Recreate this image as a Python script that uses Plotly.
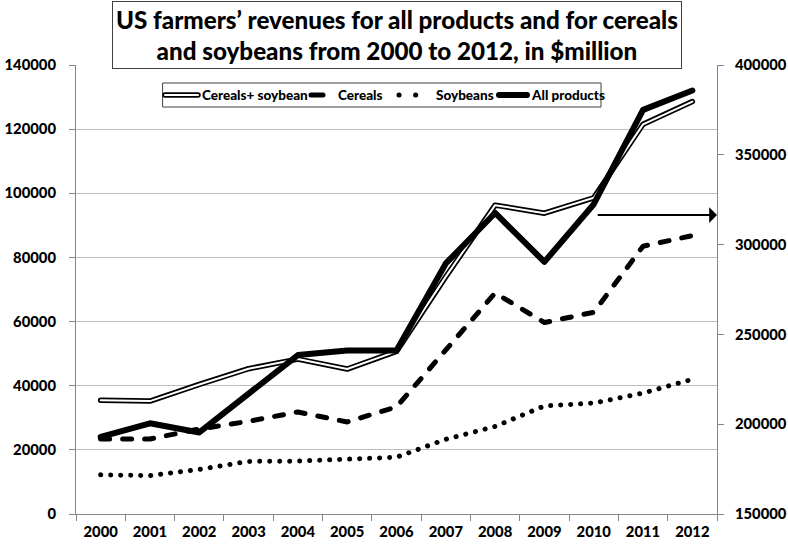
import plotly.graph_objects as go

# US farm revenues, $million
years = ["2000", "2001", "2002", "2003", "2004", "2005", "2006",
         "2007", "2008", "2009", "2010", "2011", "2012"]
cereals_soybean = [35500, 35200, 40400, 45300, 48300, 45200, 50700,
                   74000, 96300, 93800, 98600, 121500, 128600]
cereals = [23400, 23400, 26500, 28900, 31800, 28700, 33400,
           51000, 68900, 59700, 62900, 83500, 86800]
soybeans = [12200, 12000, 13900, 16400, 16500, 17100, 17700,
            23300, 27300, 33700, 34600, 37700, 42000]
all_products = [192900, 200500, 195400, 217000, 238500, 241000, 241000,
                289500, 317600, 290400, 322500, 375000, 385800]

left_ticks = [0, 20000, 40000, 60000, 80000, 100000, 120000, 140000]
right_ticks = [150000, 200000, 250000, 300000, 350000, 400000]

legend_names = ["Cereals+ soybean", "Cereals", "Soybeans", "All products"]
title_text = ("US farmers\u2019 revenues for all products and for cereals<br>"
              "and soybeans from 2000 to 2012, in $million")

FONT = "Lato, 'Open Sans', sans-serif"
W, H = 788, 544
L, R, T, B = 76, 717, 65, 514  # plot-area edges in pixels

def px(x):
    return (x - L) / (R - L)

def py(y):
    return (B - y) / (B - T)

DASH = "9px,13px"
DOT = "0.1px,9.9px"

fig = go.Figure()

# double line: black outline with a white core
fig.add_trace(go.Scatter(x=years, y=cereals_soybean, mode="lines",
                         line=dict(color="black", width=5.5),
                         showlegend=False, hoverinfo="skip"))
fig.add_trace(go.Scatter(x=years, y=cereals_soybean, mode="lines",
                         line=dict(color="white", width=2),
                         name=legend_names[0], showlegend=False))
fig.add_trace(go.Scatter(x=years, y=cereals, mode="lines",
                         line=dict(color="black", width=5, dash=DASH),
                         name=legend_names[1], showlegend=False))
fig.add_trace(go.Scatter(x=years, y=soybeans, mode="lines",
                         line=dict(color="black", width=5, dash=DOT),
                         name=legend_names[2], showlegend=False))
fig.add_trace(go.Scatter(x=years, y=all_products, mode="lines", yaxis="y2",
                         line=dict(color="black", width=6),
                         name=legend_names[3], showlegend=False))

# hand-built legend box
shapes = [dict(type="rect", xref="paper", yref="paper",
               x0=px(163), x1=px(601), y0=py(107), y1=py(83),
               line=dict(color="#404040", width=1), fillcolor="white", layer="above")]
ly = py(95)
samples = [
    (165, 198, dict(color="black", width=5.5)),
    (165, 198, dict(color="white", width=2)),
    (311, 333, dict(color="black", width=5, dash="12px,12px")),
    (399, 432, dict(color="black", width=5, dash="0.1px,16.5px")),
    (499, 527, dict(color="black", width=6)),
]
for x0, x1, ln in samples:
    shapes.append(dict(type="line", xref="paper", yref="paper",
                       x0=px(x0), x1=px(x1), y0=ly, y1=ly, line=ln, layer="above"))

annotations = []
for name, xs in zip(legend_names, [200, 336, 434, 529]):
    annotations.append(dict(text=name, xref="paper", yref="paper", x=px(xs), y=ly,
                            xanchor="left", yanchor="middle", showarrow=False,
                            font=dict(family=FONT, size=13.5, color="black", weight=900)))

# arrow pointing to the right-hand axis
annotations.append(dict(x=12.5, y=93200, ax=10.05, ay=93200, xref="x", yref="y",
                        axref="x", ayref="y", text="", showarrow=True,
                        arrowhead=1, arrowsize=1.3, arrowwidth=2, arrowcolor="black"))

# boxed title
annotations.append(dict(text=title_text, xref="paper", yref="paper",
                        x=0.5, y=py(0.5), xanchor="center", yanchor="top",
                        showarrow=False, align="center",
                        bordercolor="#404040", borderwidth=1, borderpad=3,
                        bgcolor="white",
                        font=dict(family=FONT, size=24.2, color="black", weight=900)))

tickfont = dict(family=FONT, size=14.8, color="black", weight=900)
common = dict(ticks="outside", ticklen=6, tickcolor="#868686",
              showline=True, linecolor="#868686", linewidth=1,
              tickfont=tickfont, automargin=False)
fig.update_layout(
    width=W, height=H,
    margin=dict(l=L, r=W - R, t=T, b=H - B, autoexpand=False),
    paper_bgcolor="white", plot_bgcolor="white",
    showlegend=False,
    xaxis=dict(type="category", range=[-0.5, 12.5], tickson="boundaries",
               showgrid=False, ticklabelstandoff=4, **common),
    yaxis=dict(range=[0, 140000], tickvals=left_ticks, tickformat="d",
               showgrid=True, gridcolor="#BDBDBD", gridwidth=1, zeroline=False,
               ticklabelstandoff=10, **common),
    yaxis2=dict(range=[150000, 400000], tickvals=right_ticks, tickformat="d",
                overlaying="y", side="right",
                showgrid=False, zeroline=False,
                ticklabelstandoff=8, **common),
    shapes=shapes,
    annotations=annotations,
)

# rounded line ends and joins
post = ("var s=document.createElement('style');"
        "s.textContent='.js-line, .shapelayer path{stroke-linecap:round;stroke-linejoin:round;}';"
        "document.head.appendChild(s);")
fig.write_html("out.html", post_script=post)
